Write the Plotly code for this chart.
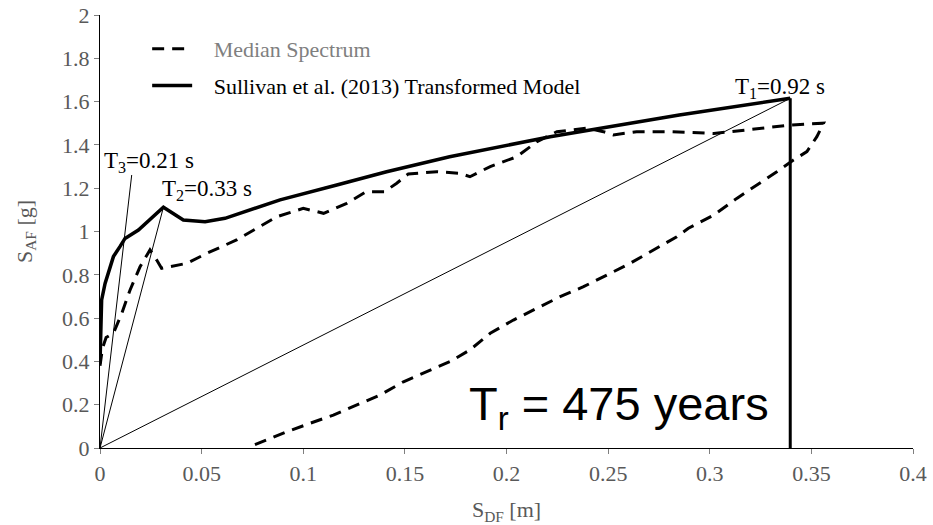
import plotly.graph_objects as go

# Median spectrum (dashed), ADRS coordinates
med_sd = [0, 0.0012, 0.0030, 0.0066, 0.0107, 0.0148, 0.0197, 0.0238, 0.0246, 0.0279, 0.0303,
          0.0427, 0.0525, 0.0672, 0.0755, 0.087, 0.100, 0.110, 0.1214, 0.131, 0.140, 0.146,
          0.1517, 0.1657, 0.177, 0.182, 0.192, 0.205, 0.215, 0.2248, 0.2395, 0.2477, 0.2526,
          0.264, 0.2805, 0.302, 0.318, 0.3396, 0.356,
          0.3527, 0.3478, 0.3412, 0.333, 0.323, 0.3133, 0.302, 0.2895, 0.2838, 0.2723, 0.2608,
          0.2494, 0.2379, 0.2264, 0.2149, 0.2034, 0.192, 0.182, 0.1722, 0.1608, 0.1493, 0.1378,
          0.1263, 0.1148, 0.1033, 0.0919, 0.082, 0.0738]
med_sa = [0.38, 0.46, 0.51, 0.53, 0.622, 0.73, 0.837, 0.899, 0.915, 0.868, 0.83,
          0.853, 0.899, 0.961, 1.007, 1.068, 1.107, 1.084, 1.13, 1.184, 1.184, 1.223,
          1.266, 1.276, 1.269, 1.253, 1.30, 1.345, 1.415, 1.461, 1.477, 1.461, 1.446,
          1.461, 1.461, 1.453, 1.469, 1.492, 1.50,
          1.438, 1.369, 1.33, 1.276, 1.215, 1.153, 1.076, 1.015, 0.976, 0.915, 0.853,
          0.799, 0.745, 0.699, 0.645, 0.591, 0.53, 0.453, 0.399, 0.352, 0.306, 0.245,
          0.199, 0.152, 0.114, 0.075, 0.037, 0.006]

# Sullivan et al. (2013) transformed model (solid)
sul_sd = [0, 0.0004, 0.0008, 0.0025, 0.0041, 0.0066, 0.0098, 0.0123, 0.0189, 0.0312, 0.041,
          0.0517, 0.0615, 0.0714, 0.0886, 0.1165, 0.141, 0.172, 0.2215, 0.285, 0.3396]
sul_sa = [0.39, 0.55, 0.684, 0.76, 0.807, 0.884, 0.93, 0.968, 1.007, 1.112, 1.053,
          1.045, 1.061, 1.092, 1.146, 1.215, 1.276, 1.345, 1.438, 1.538, 1.615]

# Period lines through origin (end points)
t1_pt = (0.3396, 1.615)
t2_pt = (0.0312, 1.112)
t3_pt = (0.0156, 1.261)

period_labels = ["T<sub>1</sub>=0.92 s", "T<sub>2</sub>=0.33 s", "T<sub>3</sub>=0.21 s"]
legend_names = ["Median Spectrum", "Sullivan et al. (2013) Transformed Model"]

x_ticks = [0, 0.05, 0.1, 0.15, 0.2, 0.25, 0.3, 0.35, 0.4]
y_ticks = [0, 0.2, 0.4, 0.6, 0.8, 1, 1.2, 1.4, 1.6, 1.8, 2]

SERIF = "Liberation Serif, Times New Roman, serif"
GRAY = "#595959"
PAD = "&nbsp;&nbsp;&nbsp;"

fig = go.Figure()

# thin period lines
for pt in (t1_pt, t2_pt, t3_pt):
    fig.add_trace(go.Scatter(x=[0, pt[0]], y=[0, pt[1]], mode="lines",
                             line=dict(color="black", width=1), showlegend=False,
                             hoverinfo="skip"))

# vertical line at T1
fig.add_trace(go.Scatter(x=[t1_pt[0], t1_pt[0]], y=[0, t1_pt[1]], mode="lines",
                         line=dict(color="black", width=3), showlegend=False,
                         hoverinfo="skip"))

fig.add_trace(go.Scatter(x=med_sd, y=med_sa, mode="lines",
                         name=PAD + '<span style="color:#7f7f7f">' + legend_names[0] + '</span>',
                         line=dict(color="black", width=3, dash="12px,8px"),
                         legendgroup="a"))
fig.add_trace(go.Scatter(x=sul_sd, y=sul_sa, mode="lines",
                         name=PAD + legend_names[1],
                         line=dict(color="black", width=3.5),
                         legendgroup="b"))

# period labels
fig.add_annotation(x=0.3346, y=1.665, text=period_labels[0], showarrow=False,
                   xanchor="center", yanchor="middle", font=dict(family=SERIF, size=23, color="black"))
fig.add_annotation(x=0.0295, y=1.19, text=period_labels[1], showarrow=False,
                   xanchor="left", yanchor="middle", font=dict(family=SERIF, size=23, color="black"))
fig.add_annotation(x=0.001, y=1.32, text=period_labels[2], showarrow=False,
                   xanchor="left", yanchor="middle", font=dict(family=SERIF, size=23, color="black"))

# return period text
fig.add_annotation(x=0.3303, y=0.19, text="T<sub>r</sub> = 475 years", showarrow=False,
                   xanchor="right", yanchor="middle",
                   font=dict(family="Liberation Sans, Arial, sans-serif", size=47, color="black"))

axis_common = dict(showgrid=False, zeroline=False, showline=True, linecolor="black",
                   linewidth=1.2, ticks="outside", ticklen=5, tickcolor="#7f7f7f",
                   tickfont=dict(family=SERIF, size=22, color=GRAY), mirror=False,
                   automargin=False)

fig.update_xaxes(range=[0, 0.4], tickvals=x_ticks, ticktext=[f"{v:g}" for v in x_ticks],
                 title=dict(text="S<sub>DF</sub> [m]", font=dict(family=SERIF, size=22, color=GRAY),
                            standoff=18),
                 **axis_common)
fig.update_yaxes(range=[0, 2], tickvals=y_ticks, ticktext=[f"{v:g}" for v in y_ticks],
                 title=dict(text="S<sub>AF</sub> [g]", font=dict(family=SERIF, size=22, color=GRAY),
                            standoff=23),
                 **axis_common)

fig.update_layout(
    width=933, height=525,
    margin=dict(l=100, r=20, t=15, b=77),
    plot_bgcolor="white", paper_bgcolor="white",
    showlegend=True,
    legend=dict(x=0.058, y=0.97, xanchor="left", yanchor="top",
                bgcolor="rgba(0,0,0,0)", font=dict(family=SERIF, size=22, color="black"),
                tracegroupgap=5, itemwidth=40),
)

fig.write_html("out.html")
